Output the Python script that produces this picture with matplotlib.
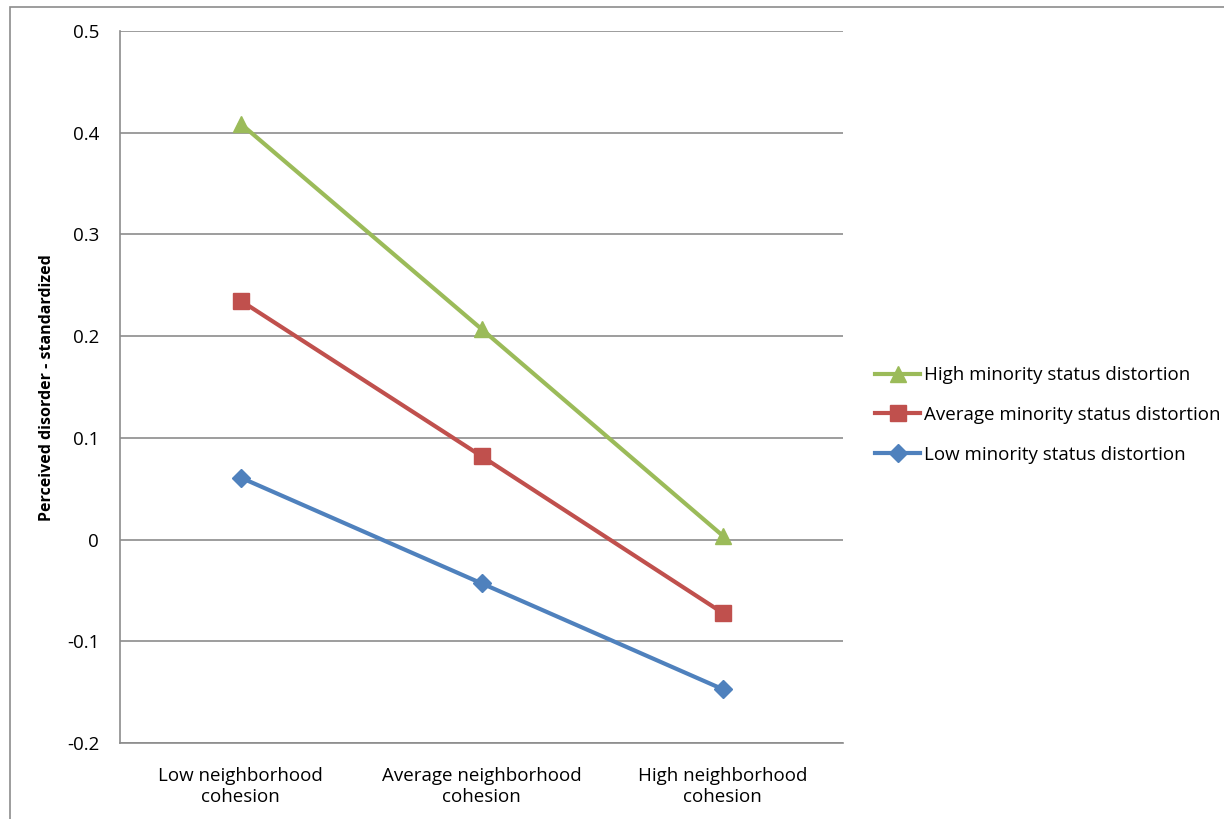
import numpy as np
import matplotlib.pyplot as plt
from matplotlib.patches import Rectangle

plt.rcParams['font.family'] = ['Open Sans', 'DejaVu Sans']

categories = ["Low neighborhood\ncohesion", "Average neighborhood\ncohesion", "High neighborhood\ncohesion"]
high_vals = [0.409, 0.207, 0.004]
avg_vals = [0.235, 0.082, -0.072]
low_vals = [0.061, -0.043, -0.147]
series_names = ["High minority status distortion",
                "Average minority status distortion",
                "Low minority status distortion"]
yticks = [-0.2, -0.1, 0, 0.1, 0.2, 0.3, 0.4, 0.5]
ytick_labels = ["-0.2", "-0.1", "0", "0.1", "0.2", "0.3", "0.4", "0.5"]

fig = plt.figure(figsize=(12.24, 8.19), dpi=100)
W, H = 1224, 819
ax = fig.add_axes([120 / W, (H - 743) / H, 723 / W, 712 / H])

# chart border
fig.patches.append(Rectangle((10 / W, -0.1), 1.2, (H - 7) / H + 0.1,
                             transform=fig.transFigure, fill=False,
                             edgecolor='#8c8c8c', linewidth=1.2))

x = np.arange(len(categories))
ax.plot(x, high_vals, color='#9BBB59', lw=3, marker='^', ms=12, label=series_names[0], zorder=3)
ax.plot(x, avg_vals, color='#C0504D', lw=3, marker='s', ms=11, label=series_names[1], zorder=3)
ax.plot(x, low_vals, color='#4F81BD', lw=3, marker='D', ms=9, label=series_names[2], zorder=3)

ax.set_xlim(-0.5, 2.5)
ax.set_ylim(-0.2, 0.5)
ax.set_yticks(yticks)
ax.set_yticklabels(ytick_labels, fontsize=13.5)
ax.set_xticks(x)
ax.set_xticklabels(categories, fontsize=13.5, linespacing=1.25)
ax.tick_params(length=0)
ax.tick_params(axis='y', pad=15)
ax.tick_params(axis='x', pad=17)
ax.yaxis.grid(True, color='#8c8c8c', lw=1.2)
ax.set_axisbelow(True)
for s in ['top', 'right']:
    ax.spines[s].set_visible(False)
for s in ['left', 'bottom']:
    ax.spines[s].set_color('#8c8c8c')
    ax.spines[s].set_linewidth(1.2)

fig.text(47 / W, 1 - 388 / H, "Perceived disorder - standardized", rotation=90,
         fontsize=11.5, fontweight='bold', ha='center', va='center')

ax.legend(loc='center left', bbox_to_anchor=(875 / W, 1 - 415 / H),
          bbox_transform=fig.transFigure, frameon=False, fontsize=13.5,
          handlelength=2.4, handletextpad=0.2, labelspacing=1.15, borderaxespad=0,
          borderpad=0)

fig.savefig("out.png", dpi=100)
